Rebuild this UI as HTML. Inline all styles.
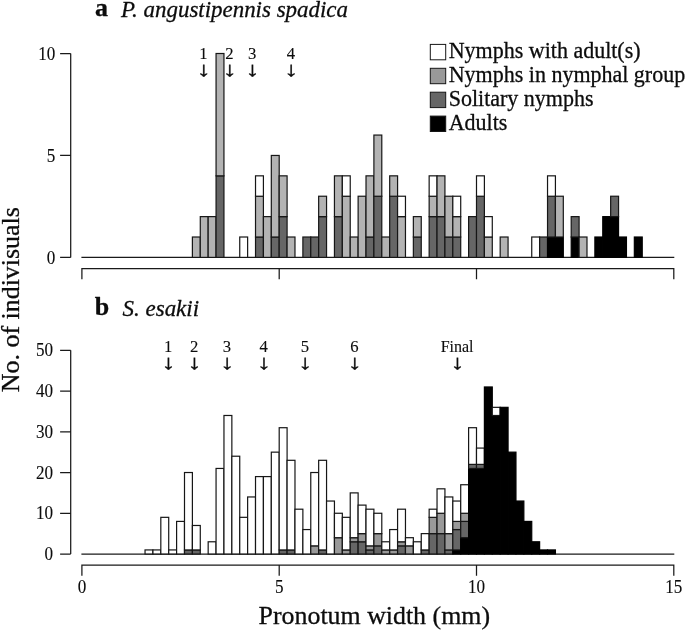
<!DOCTYPE html>
<html lang="en"><head><meta charset="utf-8"><title>Pronotum width histogram</title>
<style>
html,body{margin:0;padding:0;background:#fff}
svg{display:block}
text{font-family:"Liberation Serif",serif;fill:#0c0c0c;stroke:#0c0c0c;stroke-width:0.3px;stroke-linejoin:round}
.tk{stroke-width:0.12px}
.ax{fill:none;stroke:#1a1a1a;stroke-width:1.25}
</style></head><body>
<svg width="685" height="630" viewBox="0 0 685 630">
<rect width="685" height="630" fill="#fff"/>
<g class="t">
<text transform="translate(95,16.4) scale(1.0,1)" font-size="26" text-anchor="start" font-weight="bold">a</text>
<text transform="translate(121,16.8) scale(0.952,1)" font-size="24.1" text-anchor="start" font-style="italic">P. angustipennis spadica</text>
<text transform="translate(94.8,315.1) scale(1.0,1)" font-size="26" text-anchor="start" font-weight="bold">b</text>
<text transform="translate(122.6,315.6) scale(0.952,1)" font-size="24.1" text-anchor="start" font-style="italic">S. esakii</text>
<text transform="translate(18.6,392.2) rotate(-90) scale(1.025,1)" font-size="25.3">No. of indivisuals</text>
<text transform="translate(258.6,624.1) scale(1.035,1)" font-size="25.0" text-anchor="start" >Pronotum width (mm)</text>
</g>
<path d="M81.40,257.4 H674.30" class="ax"/>
<g stroke="#161616" stroke-width="1.2">
<rect x="192.39" y="237.01" width="7.89" height="20.39" fill="#b3b3b3"/>
<rect x="200.28" y="216.62" width="7.89" height="40.78" fill="#b3b3b3"/>
<rect x="208.17" y="216.62" width="7.89" height="40.78" fill="#b3b3b3"/>
<rect x="216.06" y="175.84" width="7.89" height="81.56" fill="#666666"/>
<rect x="216.06" y="53.50" width="7.89" height="122.34" fill="#b3b3b3"/>
<rect x="239.74" y="237.01" width="7.89" height="20.39" fill="#ffffff"/>
<rect x="255.52" y="237.01" width="7.89" height="20.39" fill="#666666"/>
<rect x="255.52" y="196.23" width="7.89" height="40.78" fill="#b3b3b3"/>
<rect x="255.52" y="175.84" width="7.89" height="20.39" fill="#ffffff"/>
<rect x="263.42" y="216.62" width="7.89" height="40.78" fill="#b3b3b3"/>
<rect x="271.31" y="237.01" width="7.89" height="20.39" fill="#666666"/>
<rect x="271.31" y="155.45" width="7.89" height="81.56" fill="#b3b3b3"/>
<rect x="279.20" y="216.62" width="7.89" height="40.78" fill="#666666"/>
<rect x="279.20" y="175.84" width="7.89" height="40.78" fill="#b3b3b3"/>
<rect x="287.09" y="237.01" width="7.89" height="20.39" fill="#b3b3b3"/>
<rect x="302.88" y="237.01" width="7.89" height="20.39" fill="#666666"/>
<rect x="310.77" y="237.01" width="7.89" height="20.39" fill="#666666"/>
<rect x="318.66" y="216.62" width="7.89" height="40.78" fill="#666666"/>
<rect x="318.66" y="196.23" width="7.89" height="20.39" fill="#b3b3b3"/>
<rect x="334.44" y="216.62" width="7.89" height="40.78" fill="#666666"/>
<rect x="334.44" y="175.84" width="7.89" height="40.78" fill="#b3b3b3"/>
<rect x="342.34" y="196.23" width="7.89" height="61.17" fill="#b3b3b3"/>
<rect x="342.34" y="175.84" width="7.89" height="20.39" fill="#ffffff"/>
<rect x="350.23" y="237.01" width="7.89" height="20.39" fill="#b3b3b3"/>
<rect x="358.12" y="196.23" width="7.89" height="61.17" fill="#b3b3b3"/>
<rect x="366.01" y="237.01" width="7.89" height="20.39" fill="#666666"/>
<rect x="366.01" y="175.84" width="7.89" height="61.17" fill="#b3b3b3"/>
<rect x="373.90" y="196.23" width="7.89" height="61.17" fill="#666666"/>
<rect x="373.90" y="135.06" width="7.89" height="61.17" fill="#b3b3b3"/>
<rect x="381.80" y="237.01" width="7.89" height="20.39" fill="#b3b3b3"/>
<rect x="389.69" y="196.23" width="7.89" height="61.17" fill="#666666"/>
<rect x="389.69" y="175.84" width="7.89" height="20.39" fill="#b3b3b3"/>
<rect x="397.58" y="216.62" width="7.89" height="40.78" fill="#b3b3b3"/>
<rect x="397.58" y="196.23" width="7.89" height="20.39" fill="#ffffff"/>
<rect x="413.36" y="237.01" width="7.89" height="20.39" fill="#666666"/>
<rect x="413.36" y="216.62" width="7.89" height="20.39" fill="#b3b3b3"/>
<rect x="429.15" y="216.62" width="7.89" height="40.78" fill="#666666"/>
<rect x="429.15" y="196.23" width="7.89" height="20.39" fill="#b3b3b3"/>
<rect x="429.15" y="175.84" width="7.89" height="20.39" fill="#ffffff"/>
<rect x="437.04" y="216.62" width="7.89" height="40.78" fill="#666666"/>
<rect x="437.04" y="175.84" width="7.89" height="40.78" fill="#b3b3b3"/>
<rect x="444.93" y="237.01" width="7.89" height="20.39" fill="#666666"/>
<rect x="444.93" y="196.23" width="7.89" height="40.78" fill="#b3b3b3"/>
<rect x="452.82" y="237.01" width="7.89" height="20.39" fill="#666666"/>
<rect x="452.82" y="216.62" width="7.89" height="20.39" fill="#b3b3b3"/>
<rect x="452.82" y="196.23" width="7.89" height="20.39" fill="#ffffff"/>
<rect x="468.61" y="216.62" width="7.89" height="40.78" fill="#666666"/>
<rect x="476.50" y="196.23" width="7.89" height="61.17" fill="#666666"/>
<rect x="476.50" y="175.84" width="7.89" height="20.39" fill="#ffffff"/>
<rect x="484.39" y="237.01" width="7.89" height="20.39" fill="#b3b3b3"/>
<rect x="484.39" y="216.62" width="7.89" height="20.39" fill="#ffffff"/>
<rect x="500.18" y="237.01" width="7.89" height="20.39" fill="#b3b3b3"/>
<rect x="531.74" y="237.01" width="7.89" height="20.39" fill="#ffffff"/>
<rect x="539.64" y="237.01" width="7.89" height="20.39" fill="#666666"/>
<rect x="547.53" y="237.01" width="7.89" height="20.39" fill="#000000" stroke="#000"/>
<rect x="547.53" y="196.23" width="7.89" height="40.78" fill="#666666"/>
<rect x="547.53" y="175.84" width="7.89" height="20.39" fill="#ffffff"/>
<rect x="555.42" y="237.01" width="7.89" height="20.39" fill="#000000" stroke="#000"/>
<rect x="555.42" y="196.23" width="7.89" height="40.78" fill="#b3b3b3"/>
<rect x="571.20" y="237.01" width="7.89" height="20.39" fill="#000000" stroke="#000"/>
<rect x="571.20" y="216.62" width="7.89" height="20.39" fill="#666666"/>
<rect x="579.10" y="237.01" width="7.89" height="20.39" fill="#b3b3b3"/>
<rect x="594.88" y="237.01" width="7.89" height="20.39" fill="#000000" stroke="#000"/>
<rect x="602.77" y="216.62" width="7.89" height="40.78" fill="#000000" stroke="#000"/>
<rect x="610.66" y="216.62" width="7.89" height="40.78" fill="#000000" stroke="#000"/>
<rect x="610.66" y="196.23" width="7.89" height="20.39" fill="#666666"/>
<rect x="618.56" y="237.01" width="7.89" height="20.39" fill="#000000" stroke="#000"/>
<rect x="634.34" y="237.01" width="7.89" height="20.39" fill="#000000" stroke="#000"/>
</g>
<path d="M81.90,279.20 V268.70 H673.80 V279.20 M279.20,268.70 V279.20 M476.50,268.70 V279.20" class="ax"/>
<text transform="translate(55.3,264) scale(0.96,1)" font-size="17.8" text-anchor="end" class="tk">0</text>
<text transform="translate(55.3,162) scale(0.96,1)" font-size="17.8" text-anchor="end" class="tk">5</text>
<text transform="translate(55.3,60) scale(0.96,1)" font-size="17.8" text-anchor="end" class="tk">10</text>
<path d="M70.7,257.40 V53.50 M70.7,257.40 H60.10 M70.7,155.45 H60.10 M70.7,53.50 H60.10" class="ax"/>
<text transform="translate(203.4,58.6) scale(0.98,1)" font-size="17.0" text-anchor="middle" class="tk">1</text>
<text transform="translate(203.4,76.1) scale(1.4,1)" font-size="20.5" text-anchor="middle" >↓</text>
<text transform="translate(229.4,58.6) scale(0.98,1)" font-size="17.0" text-anchor="middle" class="tk">2</text>
<text transform="translate(229.4,76.1) scale(1.4,1)" font-size="20.5" text-anchor="middle" >↓</text>
<text transform="translate(252.2,58.6) scale(0.98,1)" font-size="17.0" text-anchor="middle" class="tk">3</text>
<text transform="translate(252.2,76.1) scale(1.4,1)" font-size="20.5" text-anchor="middle" >↓</text>
<text transform="translate(290.9,58.6) scale(0.98,1)" font-size="17.0" text-anchor="middle" class="tk">4</text>
<text transform="translate(290.9,76.1) scale(1.4,1)" font-size="20.5" text-anchor="middle" >↓</text>
<path d="M81.40,554.0 H674.30" class="ax"/>
<g stroke="#161616" stroke-width="1.2">
<rect x="145.04" y="549.93" width="7.89" height="4.07" fill="#ffffff"/>
<rect x="152.93" y="549.93" width="7.89" height="4.07" fill="#ffffff"/>
<rect x="160.82" y="517.33" width="7.89" height="36.67" fill="#ffffff"/>
<rect x="168.71" y="549.93" width="7.89" height="4.07" fill="#ffffff"/>
<rect x="176.60" y="521.41" width="7.89" height="32.59" fill="#ffffff"/>
<rect x="184.50" y="549.93" width="7.89" height="4.07" fill="#666666"/>
<rect x="184.50" y="472.52" width="7.89" height="77.41" fill="#ffffff"/>
<rect x="192.39" y="549.93" width="7.89" height="4.07" fill="#666666"/>
<rect x="192.39" y="525.48" width="7.89" height="24.44" fill="#ffffff"/>
<rect x="208.17" y="541.78" width="7.89" height="12.22" fill="#ffffff"/>
<rect x="216.06" y="468.45" width="7.89" height="85.55" fill="#ffffff"/>
<rect x="223.96" y="415.48" width="7.89" height="138.52" fill="#ffffff"/>
<rect x="231.85" y="456.22" width="7.89" height="97.78" fill="#ffffff"/>
<rect x="239.74" y="517.33" width="7.89" height="36.67" fill="#ffffff"/>
<rect x="247.63" y="496.96" width="7.89" height="57.04" fill="#ffffff"/>
<rect x="255.52" y="476.59" width="7.89" height="77.41" fill="#ffffff"/>
<rect x="263.42" y="476.59" width="7.89" height="77.41" fill="#ffffff"/>
<rect x="271.31" y="452.15" width="7.89" height="101.85" fill="#ffffff"/>
<rect x="279.20" y="549.93" width="7.89" height="4.07" fill="#666666"/>
<rect x="279.20" y="427.71" width="7.89" height="122.22" fill="#ffffff"/>
<rect x="287.09" y="549.93" width="7.89" height="4.07" fill="#666666"/>
<rect x="287.09" y="460.30" width="7.89" height="89.63" fill="#ffffff"/>
<rect x="294.98" y="509.19" width="7.89" height="44.81" fill="#ffffff"/>
<rect x="302.88" y="529.56" width="7.89" height="24.44" fill="#ffffff"/>
<rect x="310.77" y="545.85" width="7.89" height="8.15" fill="#999999"/>
<rect x="310.77" y="472.52" width="7.89" height="73.33" fill="#ffffff"/>
<rect x="318.66" y="549.93" width="7.89" height="4.07" fill="#666666"/>
<rect x="318.66" y="460.30" width="7.89" height="89.63" fill="#ffffff"/>
<rect x="326.55" y="501.04" width="7.89" height="52.96" fill="#ffffff"/>
<rect x="334.44" y="537.70" width="7.89" height="16.30" fill="#999999"/>
<rect x="334.44" y="513.26" width="7.89" height="24.44" fill="#ffffff"/>
<rect x="342.34" y="549.93" width="7.89" height="4.07" fill="#999999"/>
<rect x="342.34" y="517.33" width="7.89" height="32.59" fill="#ffffff"/>
<rect x="350.23" y="541.78" width="7.89" height="12.22" fill="#666666"/>
<rect x="350.23" y="537.70" width="7.89" height="4.07" fill="#999999"/>
<rect x="350.23" y="492.89" width="7.89" height="44.81" fill="#ffffff"/>
<rect x="358.12" y="541.78" width="7.89" height="12.22" fill="#666666"/>
<rect x="358.12" y="533.63" width="7.89" height="8.15" fill="#999999"/>
<rect x="358.12" y="505.11" width="7.89" height="28.52" fill="#ffffff"/>
<rect x="366.01" y="549.93" width="7.89" height="4.07" fill="#666666"/>
<rect x="366.01" y="545.85" width="7.89" height="4.07" fill="#999999"/>
<rect x="366.01" y="509.19" width="7.89" height="36.67" fill="#ffffff"/>
<rect x="373.90" y="545.85" width="7.89" height="8.15" fill="#666666"/>
<rect x="373.90" y="533.63" width="7.89" height="12.22" fill="#999999"/>
<rect x="373.90" y="513.26" width="7.89" height="20.37" fill="#ffffff"/>
<rect x="381.80" y="549.93" width="7.89" height="4.07" fill="#999999"/>
<rect x="381.80" y="541.78" width="7.89" height="8.15" fill="#ffffff"/>
<rect x="389.69" y="549.93" width="7.89" height="4.07" fill="#999999"/>
<rect x="389.69" y="529.56" width="7.89" height="20.37" fill="#ffffff"/>
<rect x="397.58" y="545.85" width="7.89" height="8.15" fill="#666666"/>
<rect x="397.58" y="541.78" width="7.89" height="4.07" fill="#999999"/>
<rect x="397.58" y="509.19" width="7.89" height="32.59" fill="#ffffff"/>
<rect x="405.47" y="545.85" width="7.89" height="8.15" fill="#999999"/>
<rect x="405.47" y="537.70" width="7.89" height="8.15" fill="#ffffff"/>
<rect x="413.36" y="541.78" width="7.89" height="12.22" fill="#ffffff"/>
<rect x="421.26" y="549.93" width="7.89" height="4.07" fill="#666666"/>
<rect x="421.26" y="533.63" width="7.89" height="16.30" fill="#ffffff"/>
<rect x="429.15" y="533.63" width="7.89" height="20.37" fill="#666666"/>
<rect x="429.15" y="517.33" width="7.89" height="16.30" fill="#999999"/>
<rect x="429.15" y="509.19" width="7.89" height="8.15" fill="#ffffff"/>
<rect x="437.04" y="533.63" width="7.89" height="20.37" fill="#666666"/>
<rect x="437.04" y="513.26" width="7.89" height="20.37" fill="#999999"/>
<rect x="437.04" y="488.82" width="7.89" height="24.44" fill="#ffffff"/>
<rect x="444.93" y="549.93" width="7.89" height="4.07" fill="#666666"/>
<rect x="444.93" y="533.63" width="7.89" height="16.30" fill="#999999"/>
<rect x="444.93" y="496.96" width="7.89" height="36.67" fill="#ffffff"/>
<rect x="452.82" y="549.93" width="7.89" height="4.07" fill="#000000" stroke="#000"/>
<rect x="452.82" y="529.56" width="7.89" height="20.37" fill="#666666"/>
<rect x="452.82" y="521.41" width="7.89" height="8.15" fill="#999999"/>
<rect x="452.82" y="501.04" width="7.89" height="20.37" fill="#ffffff"/>
<rect x="460.72" y="537.70" width="7.89" height="16.30" fill="#000000" stroke="#000"/>
<rect x="460.72" y="521.41" width="7.89" height="16.30" fill="#666666"/>
<rect x="460.72" y="513.26" width="7.89" height="8.15" fill="#999999"/>
<rect x="460.72" y="484.74" width="7.89" height="28.52" fill="#ffffff"/>
<rect x="468.61" y="468.45" width="7.89" height="85.55" fill="#000000" stroke="#000"/>
<rect x="468.61" y="464.37" width="7.89" height="4.07" fill="#666666"/>
<rect x="468.61" y="427.71" width="7.89" height="36.67" fill="#ffffff"/>
<rect x="476.50" y="468.45" width="7.89" height="85.55" fill="#000000" stroke="#000"/>
<rect x="476.50" y="464.37" width="7.89" height="4.07" fill="#666666"/>
<rect x="476.50" y="448.08" width="7.89" height="16.30" fill="#ffffff"/>
<rect x="484.39" y="386.97" width="7.89" height="167.03" fill="#000000" stroke="#000"/>
<rect x="492.28" y="415.48" width="7.89" height="138.52" fill="#000000" stroke="#000"/>
<rect x="492.28" y="407.34" width="7.89" height="8.15" fill="#ffffff"/>
<rect x="500.18" y="407.34" width="7.89" height="146.66" fill="#000000" stroke="#000"/>
<rect x="508.07" y="452.15" width="7.89" height="101.85" fill="#000000" stroke="#000"/>
<rect x="515.96" y="501.04" width="7.89" height="52.96" fill="#000000" stroke="#000"/>
<rect x="523.85" y="521.41" width="7.89" height="32.59" fill="#000000" stroke="#000"/>
<rect x="531.74" y="541.78" width="7.89" height="12.22" fill="#000000" stroke="#000"/>
<rect x="539.64" y="549.93" width="7.89" height="4.07" fill="#000000" stroke="#000"/>
<rect x="547.53" y="549.93" width="7.89" height="4.07" fill="#000000" stroke="#000"/>
</g>
<path d="M81.90,575.70 V565.20 H673.80 V575.70 M279.20,565.20 V575.70 M476.50,565.20 V575.70" class="ax"/>
<text transform="translate(81.9,593.2) scale(0.96,1)" font-size="17.8" text-anchor="middle" class="tk">0</text>
<text transform="translate(279.2,593.2) scale(0.96,1)" font-size="17.8" text-anchor="middle" class="tk">5</text>
<text transform="translate(476.5,593.2) scale(0.96,1)" font-size="17.8" text-anchor="middle" class="tk">10</text>
<text transform="translate(673.8,593.2) scale(0.96,1)" font-size="17.8" text-anchor="middle" class="tk">15</text>
<text transform="translate(53.1,560) scale(0.96,1)" font-size="17.8" text-anchor="end" class="tk">0</text>
<text transform="translate(53.1,519) scale(0.96,1)" font-size="17.8" text-anchor="end" class="tk">10</text>
<text transform="translate(53.1,479) scale(0.96,1)" font-size="17.8" text-anchor="end" class="tk">20</text>
<text transform="translate(53.1,438) scale(0.96,1)" font-size="17.8" text-anchor="end" class="tk">30</text>
<text transform="translate(53.1,397) scale(0.96,1)" font-size="17.8" text-anchor="end" class="tk">40</text>
<text transform="translate(53.1,356) scale(0.96,1)" font-size="17.8" text-anchor="end" class="tk">50</text>
<path d="M70.7,554.00 V350.30 M70.7,554.00 H60.10 M70.7,513.26 H60.10 M70.7,472.52 H60.10 M70.7,431.78 H60.10 M70.7,391.04 H60.10 M70.7,350.30 H60.10" class="ax"/>
<text transform="translate(168.2,352.3) scale(0.98,1)" font-size="17.0" text-anchor="middle" class="tk">1</text>
<text transform="translate(168.2,368.9) scale(1.4,1)" font-size="20.5" text-anchor="middle" >↓</text>
<text transform="translate(194.1,352.3) scale(0.98,1)" font-size="17.0" text-anchor="middle" class="tk">2</text>
<text transform="translate(194.1,368.9) scale(1.4,1)" font-size="20.5" text-anchor="middle" >↓</text>
<text transform="translate(226.9,352.3) scale(0.98,1)" font-size="17.0" text-anchor="middle" class="tk">3</text>
<text transform="translate(226.9,368.9) scale(1.4,1)" font-size="20.5" text-anchor="middle" >↓</text>
<text transform="translate(263.6,352.3) scale(0.98,1)" font-size="17.0" text-anchor="middle" class="tk">4</text>
<text transform="translate(263.6,368.9) scale(1.4,1)" font-size="20.5" text-anchor="middle" >↓</text>
<text transform="translate(304.8,352.3) scale(0.98,1)" font-size="17.0" text-anchor="middle" class="tk">5</text>
<text transform="translate(304.8,368.9) scale(1.4,1)" font-size="20.5" text-anchor="middle" >↓</text>
<text transform="translate(354.5,352.3) scale(0.98,1)" font-size="17.0" text-anchor="middle" class="tk">6</text>
<text transform="translate(354.5,368.9) scale(1.4,1)" font-size="20.5" text-anchor="middle" >↓</text>
<text transform="translate(457.1,352.3) scale(0.94,1)" font-size="17.0" text-anchor="middle" class="tk">Final</text>
<text transform="translate(457.1,368.9) scale(1.4,1)" font-size="20.5" text-anchor="middle" >↓</text>
<rect x="430.3" y="44.4" width="15.4" height="15.4" fill="#ffffff" stroke="#161616" stroke-width="1"/>
<text transform="translate(448.7,58.0) scale(0.978,1)" font-size="22.5" text-anchor="start" >Nymphs with adult(s)</text>
<rect x="430.3" y="68.3" width="15.4" height="15.4" fill="#999999" stroke="#161616" stroke-width="1"/>
<text transform="translate(448.7,81.9) scale(0.978,1)" font-size="22.5" text-anchor="start" >Nymphs in nymphal group</text>
<rect x="430.3" y="92.2" width="15.4" height="15.4" fill="#666666" stroke="#161616" stroke-width="1"/>
<text transform="translate(448.7,105.8) scale(0.978,1)" font-size="22.5" text-anchor="start" >Solitary nymphs</text>
<rect x="430.3" y="116.1" width="15.4" height="15.4" fill="#000000" stroke="#161616" stroke-width="1"/>
<text transform="translate(448.7,129.7) scale(0.978,1)" font-size="22.5" text-anchor="start" >Adults</text>
</svg>
</body></html>
